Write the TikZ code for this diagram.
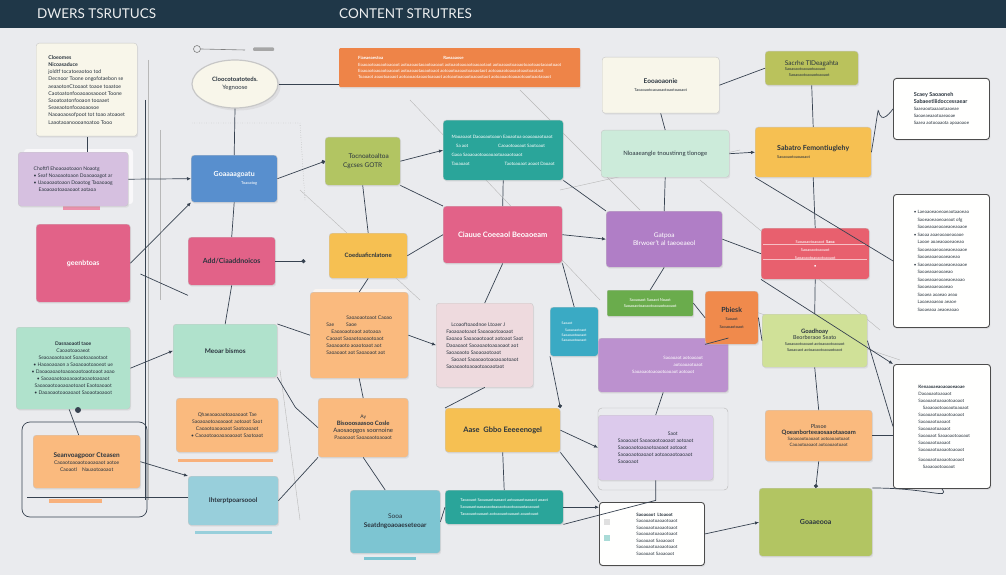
\documentclass[tikz,border=0pt]{standalone}
\usepackage{fontspec}
\setmainfont{Lato}
\usetikzlibrary{arrows.meta,shadows,calc,shapes.geometric}
\definecolor{hdr}{RGB}{31,55,72}
\definecolor{bgc}{RGB}{234,235,238}
\definecolor{cream}{RGB}{248,246,234}
\definecolor{lav}{RGB}{214,192,224}
\definecolor{pink}{RGB}{226,98,136}
\definecolor{mint}{RGB}{176,226,204}
\definecolor{mintl}{RGB}{204,235,218}
\definecolor{orl}{RGB}{250,186,126}
\definecolor{blu}{RGB}{88,143,206}
\definecolor{lblu}{RGB}{152,207,219}
\definecolor{lblu2}{RGB}{125,197,210}
\definecolor{oban}{RGB}{238,132,72}
\definecolor{gny}{RGB}{178,197,98}
\definecolor{teal}{RGB}{42,165,154}
\definecolor{yel}{RGB}{246,192,82}
\definecolor{ppink}{RGB}{238,218,222}
\definecolor{purp}{RGB}{176,126,198}
\definecolor{gbar}{RGB}{106,172,76}
\definecolor{tls}{RGB}{58,170,196}
\definecolor{lav2}{RGB}{220,202,236}
\definecolor{red}{RGB}{232,96,110}
\definecolor{ors}{RGB}{240,138,76}
\definecolor{lgn}{RGB}{208,225,152}
\definecolor{gn31}{RGB}{186,194,92}
\definecolor{lnc}{RGB}{55,66,80}
\definecolor{txc}{RGB}{42,52,62}
\begin{document}
\begin{tikzpicture}[x=1pt,y=-1pt,
  box/.style={draw=black!22,line width=0.4pt,rounded corners=3pt,anchor=north west,inner sep=2pt,
    text=txc,font=\fontsize{5}{7}\selectfont,align=center,
    drop shadow={opacity=0.12,shadow xshift=1pt,shadow yshift=-1.5pt}},
  wbox/.style={box,draw=black!70,line width=0.9pt,fill=white!97!cream,align=left},
  lbl/.style={font=\fontsize{7}{9}\selectfont\bfseries},
  ln/.style={draw=lnc,line width=0.7pt},
  lt/.style={draw=black!28,line width=0.4pt},
  arr/.style={ln,-{Latex[length=4pt,width=3.5pt]}},
  dot/.style={ln,-{Circle[length=4pt]}},
  hd/.style={text=white!92!hdr,font=\fontsize{13.5}{15}\selectfont,anchor=west,inner sep=0pt}]
\useasboundingbox (0,0) rectangle (1006,575);
\fill[bgc] (0,0) rectangle (1006,575);
\fill[hdr] (0,0) rectangle (1006,28);
\node[hd] (h1) at (37,14) {DWERS TSRUTUCS};
\node[hd] (h2) at (339,14) {CONTENT STRUTRES};

% ---------- faint background lines
\draw[lt] (148,60) -- (148,500);
\draw[lt] (160,130) -- (160,300);
\draw[lt] (410,100) -- (600,300);
\draw[lt] (560,190) -- (740,150);
\draw[lt] (300,190) -- (420,300);
\draw[lt] (700,180) -- (880,330);
\draw[lt] (520,90) -- (640,210);
\draw[lt] (280,370) -- (300,520);
\draw[lt] (720,300) -- (900,360);
\draw[dotted,black!45] (192,123) -- (300,123) -- (305,200);
\draw[lt,rounded corners=4pt] (598,408) rectangle (728,490);

% ---------- pin at top
\draw[black!50,line width=0.6pt] (197,49) circle (3.5);
\draw[black!50,line width=0.6pt] (201,49) -- (245,50);
\fill[black!35,rounded corners=1pt] (253,47.5) rectangle (274,51);

% ---------- column 1
\node[box,fill=cream,minimum width=101pt,minimum height=93pt,align=left,font=\fontsize{5.2}{7.2}\selectfont] (cA) at (36,43)
 {\textbf{Cloeomes}\\\textbf{Nicoasaduce}\\joldtf tocatoeaotoo tod\\Decnoor Toone ongofotaebon se\\aeaaotonCtooaot toaoe toaatoe\\Caotoatonfooaoaosaooot Toone\\Saoatoatonfooaon tooaaet\\Seaeaotonfooaoaosoe\\Naoaoaosofpoot tot toao atoaoet\\Laaotaoanoooanoatoo Tooo};
\fill[pink!70] (63,204) rectangle (100,210);
\fill[lav!85!black!8,rounded corners=3pt] (24,149) rectangle (133,204);
\node[box,fill=lav,minimum width=110pt,minimum height=54pt,align=left] (lavA) at (18,152)
 {Choftfl Ehoaoaotoaon Noaotg\\• Seaf Noaoaotoaon Doaoaoagot ar\\• Uaoaoaotoaon Doaotog Taoaoaog\\\quad Eaoaoaotoaoaoaot aotaoa};
\node[box,fill=pink,minimum width=94pt,minimum height=78pt,text=white,lbl] (pkA) at (36,224) {ɡeenbtoas};
\node[box,fill=mint,minimum width=114pt,minimum height=82pt] (mnA) at (16,327)
 {\textbf{Dasnaoaotl taoe}\\Caoaotoaoaeot\\Seaoaoaotoaot Soaotoaoaotaot\\• Haoaoaoaon a Saoaoaotoaoeot ue\\• Daoaoaoaotoaoaoaotoaotoaot aoao\\• Saoaoaotoaoaoaotaoaotoaoaot\\Saoaoaotoaoaoaotoaot Eaotoaoaot\\• Daoaoaotoaoaoaot Saoaotaoaoot};
\draw[ln,rounded corners=8pt] (22,422) rectangle (147,517);
\node[box,fill=orl,minimum width=107pt,minimum height=53pt] (orA) at (33,435)
 {{\fontsize{6.5}{10}\selectfont\bfseries Seanvoagpoor Cteasen}\\Caoaotoaoaotoaoaoaot aotoe\\Caoaotl\quad Nauaotoaoaot};
\fill[orl!90!red] (49,498.5) rectangle (102,502.5);

% ---------- column 2
\node[ellipse,draw=black!22,line width=1.2pt,fill=cream,minimum width=86pt,minimum height=48pt,
  font=\fontsize{6}{7.5}\selectfont,text=txc,align=center,drop shadow={opacity=0.12}] (blob) at (235,84)
  {\textbf{Cloocotoatoteds.}\\Yegnoose};
\node[box,fill=blu,minimum width=86pt,minimum height=47pt,text=white,lbl] (bluA) at (191,155) {Goaaaagoatu\\[-1pt]\hspace*{30pt}{\fontsize{4}{5}\selectfont\mdseries Toaoatog}};
\node[box,fill=pink,minimum width=87pt,minimum height=48pt,lbl] (pkB) at (188,237) {Add/Ciaaddnoicos};
\node[box,fill=mint,minimum width=104pt,minimum height=53pt,lbl,font=\fontsize{6.5}{8}\selectfont\bfseries] (mnB) at (173,324) {Meoar bismos};
\node[box,fill=orl,minimum width=102pt,minimum height=54pt] (orB) at (176,398)
 {Qhaeaoaoaotoaoaoaot Tae\\Saoaoaotoaoaoaot aotoaot Saot\\Caoaotoaoaoaot Saotoaoaot\\• Caoaotoaoaoaoaoaot Saotoaot};
\fill[orl!90!red] (178,459) rectangle (273,462);
\node[box,fill=lblu,minimum width=90pt,minimum height=49pt,font=\fontsize{6.5}{8}\selectfont\bfseries] (lbA) at (188,476) {Ihterptpoarsoool};
\fill[lblu] (195,531) rectangle (272,533.5);

% ---------- column 3
\node[box,fill=oban,minimum width=241pt,minimum height=39pt,text=white,draw=none,rounded corners=1pt,align=left,font=\fontsize{4.3}{6.3}\selectfont] (ban) at (339,48)
 {\textbf{Fiaeaeaestoa}\hspace{60pt}\textbf{Raeaaaose}\\Eoaoaotoaoaotoaoaot aotoaoaotaoaotoaoaot aotoaotoaoaotoaoaotaot aotoaoaotoaoaotoaotoaotaoaotoaot\\Eoaoaotoaoaotoaoaot aotoaoaotaoaotoaot aotoaotoaoaotoaoaotaot aotoaoaotoaoaotoaotoaotaot\\Toaoaot aoaotoaoaot aotoaoaotaoaotoaoaot aotoaotoaoaotoaoaotaot aotoaoaotoaoaotoaotoaotaoaot};
\node[box,fill=gny,minimum width=75pt,minimum height=48pt,font=\fontsize{6.5}{8.5}\selectfont] (gnA) at (325,137) {\hspace*{12pt}Tocnoatoaltoa\\Cgcses GOTR};
\node[box,fill=teal,minimum width=120pt,minimum height=60pt,text=white,align=left,font=\fontsize{4.5}{9}\selectfont] (tlA) at (443,120)
 {Maoaoaot Daoaoaotoaon Eaoaotoa ooaoaoaotoaot\\\quad Sa aot\hspace{30pt}Caoaotoaoaot Saotoaot\\Gaoa Saoaoaotoaoaoaotoaoaotoaot\\Taoaoaot\hspace{35pt}Taotoaoaot aoaot Daoaot};
\node[box,fill=yel,minimum width=78pt,minimum height=45pt,font=\fontsize{6}{8}\selectfont\bfseries] (ylA) at (329,233) {Coeduaficnlatone};
\node[box,fill=pink,minimum width=119pt,minimum height=57pt,text=white,font=\fontsize{7.5}{9}\selectfont\bfseries] (pkC) at (443,206) {Ciauue Coeeaol Beoaoeam};
\fill[orl!80!black!10,rounded corners=3pt] (313,289) rectangle (408,372);
\node[box,fill=orl,minimum width=98pt,minimum height=86pt,align=left] (orC) at (310,292)
 {\hspace{20pt}Saoaoaotoaot Caoao\\Sae\hspace{12pt}Saoe\\\quad Eaoaoaotoaot aotoaoa\\Caoaot Saoaotoaoaotoaot\\Saoaoaoto aoaotoaot aot\\Saoaoaot aot Saoaoaot aot};
\node[box,fill=ppink,minimum width=97pt,minimum height=84pt,align=left] (ppA) at (436,303)
 {\quad Lcoaoftoaodnoe Ltoaer J\\Faoaoaotoaot Saoaoaotoaoaot\\Eaoaoa Saoaoaotoaot aotoaot Saot\\Daoaoaot Saoaoaotoaoaoaot aot\\Saoaoaoto Saoaoaotoaot\\\quad Saoaot Saoaoaotoaoaoaotoaot\\Saoaoaotoaoaotoaoaotaot};
\node[box,fill=orl,minimum width=90pt,minimum height=59pt] (orD) at (318,398)
 {\hfill Ay\\{\fontsize{6}{8}\selectfont\bfseries Bisooosaasoo Cosle}\\{\fontsize{6}{8}\selectfont Aaosaopgos soornoine}\\Paoaoaot Saoaoaotoaoaot};
\node[box,fill=yel,minimum width=115pt,minimum height=44pt,font=\fontsize{7.5}{9}\selectfont\bfseries] (ylB) at (445,408) {Aase\enspace Gbbo Eeeeenogel};
\node[box,fill=lblu2,minimum width=90pt,minimum height=63pt,font=\fontsize{6.5}{9}\selectfont] (lbB) at (350,490) {Sooa\\\textbf{Seatdngoaoaeseteoar}};
\fill[lblu2] (364,557) rectangle (416,560);
\node[box,fill=teal,minimum width=118pt,minimum height=34pt,text=white,align=left,font=\fontsize{4}{7}\selectfont] (tlB) at (445,490)
 {Taoaoaot Saoaoaotoaoaot aotoaoaotoaoaot aoaot\\Saoaoaotoaoaoaotoaoaotoaotoaoaotaoaoaot\\Taoaoaotoaoaot aotoaoaotoaoaot aoaotoaot};

% ---------- column 4
\node[box,fill=cream,minimum width=117pt,minimum height=56pt,font=\fontsize{6.5}{8}\selectfont] (cB) at (602,57) {\textbf{Eooaoaonie}\\{\fontsize{4}{5}\selectfont Taoaoaotoaoaoaotoaotoaoaot}};
\node[box,fill=mintl,minimum width=128pt,minimum height=47pt,font=\fontsize{6}{8}\selectfont] (mnC) at (601,130) {Nloaaeangle tnoustinng tlonoge};
\node[box,fill=purp,minimum width=116pt,minimum height=56pt,text=white,font=\fontsize{6.5}{7.5}\selectfont] (puA) at (606,211) {Gatpoa\\Blrwoer't al taeoeaeol};
\node[box,fill=gbar,minimum width=86pt,minimum height=26pt,text=white,rounded corners=1pt,font=\fontsize{4}{6}\selectfont] (gnB) at (607,290) {Saoaoaot Saoaot Noaot\\Saoaoaotoaoaotoaoaotoaoaot};
\node[box,fill=tls,minimum width=48pt,minimum height=49pt,text=white,font=\fontsize{3.5}{5}\selectfont,align=left] (tlC) at (550,307) {Saoaot\\[2pt]\quad Saoaoaotoaot\\Saoaoaotoaoaot\\Saoaoaotoaoaot};
\node[box,fill=purp!85!white,minimum width=130pt,minimum height=54pt,text=white,font=\fontsize{4.5}{7}\selectfont] (puB) at (598,338) {\hspace{40pt}Saoaoaot aotoaoaot\\\hspace{50pt}aotoaoaotoaot\\Saoaoaotoaoaotoaoaot aotoaot};
\node[box,fill=lav2,minimum width=115pt,minimum height=65pt,align=left] (lvB) at (598,415)
 {\hspace{50pt}Saot\\Saoaoaot Saoaoaotoaoaot aotoaot\\Saoaoaotoaoaotoaoaot aotoaot\\Saoaoaotoaoaot aotoaoaotoaoaot\\Saoaoaot};
\node[box,draw=black!70,line width=0.9pt,fill=white!96!cream,minimum width=105pt,minimum height=63pt,align=left,font=\fontsize{4.5}{6.5}\selectfont] (cC) at (599,502)
 {\hspace{10pt}\textbf{Saoaoaot\enspace Ltoaoot}\\\hspace{10pt}Saoaoaotoaoaotoaot\\\hspace{10pt}Saoaoaotoaoaotoaot\\\hspace{10pt}Saoaoaotoaoaotoaot\\\hspace{10pt}Saoaoaot Saoaoaot\\\hspace{10pt}Saoaoaotoaoaotoaot\\\hspace{10pt}Saoaoaot Saoaoaot};
\fill[black!12] (604,519) rectangle (610,525);
\fill[teal!40] (604,535) rectangle (610,541);

% ---------- column 5
\node[box,fill=gn31,minimum width=93pt,minimum height=34pt,align=left,font=\fontsize{4}{5.5}\selectfont] (gnC) at (765,51) {{\fontsize{6.5}{8}\selectfont Sacrhe TlDeagahta}\\Saoaoaotoaoaotoaoaot\\\quad Saoaoaotoaoaotoaoaot};
\node[box,fill=yel,minimum width=116pt,minimum height=50pt,align=left,font=\fontsize{7}{8}\selectfont] (ylC) at (755,127) {\textbf{Sabatro Femontiuglehy}\\{\fontsize{4}{5}\selectfont Saoaoaotoaoaoaot}};
\node[box,fill=red,minimum width=108pt,minimum height=51pt,text=white,font=\fontsize{4}{8}\selectfont] (rdA) at (761,228) {Saoaoaotoaoaot\enspace\textbf{Saoa}\\Saoaoaotoaoaot\\Saoaoaotoaoaotoaoaot\\\textbf{•}};
\draw[white!60!red,line width=0.5pt] (763,244) -- (867,244) (763,259) -- (867,259);
\node[box,fill=ors,minimum width=53pt,minimum height=53pt,font=\fontsize{7}{8}\selectfont] (orE) at (705,291) {\textbf{Pbiesk}\\{\fontsize{4}{5}\selectfont Saoaot}\\{\fontsize{4}{5}\selectfont Saoaoaotoaot}};
\node[box,fill=lgn,minimum width=105pt,minimum height=53pt,font=\fontsize{4}{6}\selectfont] (lgA) at (762,314) {{\fontsize{6}{7.5}\selectfont\bfseries Goadhoay}\\{\fontsize{5.5}{7.5}\selectfont Beorberaoe Seato}\\Saoaoaotoaoaot aotoaoaotoaoaot\\Saoaoaot aotoaoaotoaoaotoaot};
\node[box,fill=orl,minimum width=107pt,minimum height=51pt,font=\fontsize{4.5}{6}\selectfont] (orF) at (765,410) {{\fontsize{5.5}{7}\selectfont Plasoe}\\{\fontsize{6}{7}\selectfont\bfseries Qoeanborteeaosaaotaaoam}\\Saoaoaotoaoaot aotoaoaotoaot\\Caoaotoaoaot aotoaoaotoaot};
\node[box,fill=gny,minimum width=113pt,minimum height=68pt,font=\fontsize{7}{8}\selectfont\bfseries] (gnD) at (759,488) {Goaaeooa};

% ---------- column 6
\node[wbox,minimum width=96pt,minimum height=61pt,font=\fontsize{4.5}{7}\selectfont] (wA) at (893,78)
 {{\fontsize{5.5}{8}\selectfont\bfseries Scaey Saoaoneh}\\{\fontsize{5.5}{8}\selectfont\bfseries Sabaeetliidoccessaear}\\Saaeaootaaaaotaaoeae\\Saoaeaeaaotoaeaoae\\Saaea aotooaaota apoaoaoe};
\node[wbox,minimum width=96pt,minimum height=133pt,font=\fontsize{4.5}{7.5}\selectfont] (wB) at (893,194)
 {• Laeoaoeaoeoaeaotaaoeao\\\phantom{•} Saoeaoeaoeoaeaot ofg\\\phantom{•} Saoaeaoaeaoaeaoeaoaoe\\• Saoaa aoaeaoaoeaoaoe\\\phantom{•} Laooe aoaeaoaoeaoeao\\\phantom{•} Saoaeaoaeaoaeaoeaoaoe\\\phantom{•} Saoaeaoaeaoaeaoeao\\• Saoaeaoaeaoaeaoeaoaoe\\\phantom{•} Saoaeaoaeaoaeao\\\phantom{•} Saoaeaoaeaoaeaoeaoao\\\phantom{•} Saoaeaoaeaoaeao\\\phantom{•} Saoaea aoaeao aeao\\\phantom{•} Laoaeaoaeao aeaoe\\\phantom{•} Saoaeaoa aeaoeaoao};
\node[wbox,minimum width=97pt,minimum height=124pt,font=\fontsize{4.5}{7}\selectfont] (wC) at (893,364)
 {\quad\textbf{Kenaaoaeaoaoaoeaoae}\\\quad Daoaoaotoaoaot\\\quad Saoaoaotoaoaotoaoaot\\\quad\quad Saoaoaotoaoaotoaoaot\\\quad Saoaoaotoaoaotoaoaot\\\quad Saoaoaotoaoaot\\\quad Saoaoaotoaoaot\\\quad Saoaoaot Saoaoaotoaoaot\\\quad Saoaoaotoaoaot\\\quad Saoaoaotoaoaotoaoaot\\[3pt]\quad Saoaoaotoaoaotoaoaot\\\quad\quad Saoaoaotoaoaot};

% ---------- connectors
\draw[ln] (87,137) -- (87,152);
\draw[arr] (lavA.east) -- (bluA.west);
\draw[ln] (blob.south) -- (bluA.north);
\draw[ln] (blob.east) -- (ban.west |- blob.east);
\draw[ln] (bluA.south) -- (pkB.north);
\draw[dot] (bluA.east) -- (gnA.west);
\draw[arr] (pkA.east) -- (bluA.south west);
\draw[ln] (pkA.north east) ++(10,50) -- ($(pkB.south west)+(0,10)$);
\draw[dot] (pkB.east) -- ++(30,0);
\draw[ln] (pkB.south) -- (mnB.north);
\draw[arr] (mnA.east) -- (mnB.west);
\draw[ln] ($(mnA.south)+(-4,0)$) -- ($(orA.north)+(-8,0)$);
\fill[lnc] (78,410) circle (3);
\draw[arr] (orA.east) -- (lbA.north west);
\draw[ln] (27,497) -- (lbA.west |- 0,497);
\draw[ln] (145,100) -- (145,500);
\draw[ln] (mnB.north east) -- (orC.west);
\draw[ln] (mnB.south east) -- ++(18,30) -- (orD.west);
\draw[arr] (gnA.east) -- (tlA.west);
\draw[ln] (gnA.south) -- (ylA.north);
\draw[ln] (gnA.south east) -- (pkC.north west);
\draw[ln] (tlA.south) -- (pkC.north);
\draw[ln] (ylA.east) -- (pkC.west);
\draw[ln] (ylA.south) -- (orC.north);
\draw[arr] (pkC.east) -- (puA.west);
\draw[ln] (pkC.south) -- (ppA.north);
\draw[ln] (pkC.south east) -- (tlC.north);
\draw[ln] (tlA.south east) -- (puA.north west);
\draw[ln] (orC.south) -- (orD.north);
\draw[arr] (orC.east) -- (ppA.west);
\draw[ln] (ppA.south) -- (ylB.north west);
\draw[dot] (tlC.south west) -- (ylB.north east);
\draw[ln] (ylB.south) -- (tlB.north);
\draw[ln] (orD.south) -- ($(lbB.north)+(-10,0)$);
\draw[ln] (orD.south west) -- (lbA.east);
\draw[ln] (lbB.east) -- (tlB.west);
\draw[arr] (ylB.east) -- (lvB.west);
\draw[ln] (ylB.south east) -- (cC.north west);
\draw[arr] (tlB.east) -- (cC.west |- tlB.east);
\draw[ln] (cB.east) -- (gnC.west);
\draw[ln] (cB.south) -- (mnC.north);
\draw[ln] (mnC.south) -- (puA.north);
\draw[arr] (mnC.east) -- (ylC.west);
\draw[ln] (gnC.south) -- (ylC.north);
\draw[ln] (ylC.east) .. controls (885,70) and (870,140) .. (wA.west);
\draw[ln] (ylC.south west) -- (wB.west);
\draw[ln] (ylC.south) -- (rdA.north);
\draw[ln] (puA.east) -- (rdA.west);
\draw[ln] (puA.south) -- (gnB.north);
\draw[ln] (gnB.east) -- (orE.west);
\draw[ln] (orE.east) -- (lgA.west);
\draw[ln] (puB.south) -- (lvB.north);
\draw[ln] (rdA.south) -- (lgA.north);
\draw[arr] (rdA.south west) -- (wC.north west);
\draw[ln] (lgA.east) -- (wC.west);
\draw[ln] (lgA.south) -- (orF.north);
\draw[ln] (orF.east) -- (wC.west |- orF.east);
\draw[dot] (orF.south) -- (gnD.north);
\draw[arr] (cC.east) -- (gnD.west);
\draw[ln] (gnD.north east) .. controls (930,488) and (950,500) .. (wC.south);
\draw[ln] (lvB.south) -- ++(0,20) -- (tlB.south east);
\draw[ln] (orE.south west) -- (puB.north east);
\end{tikzpicture}
\end{document}
